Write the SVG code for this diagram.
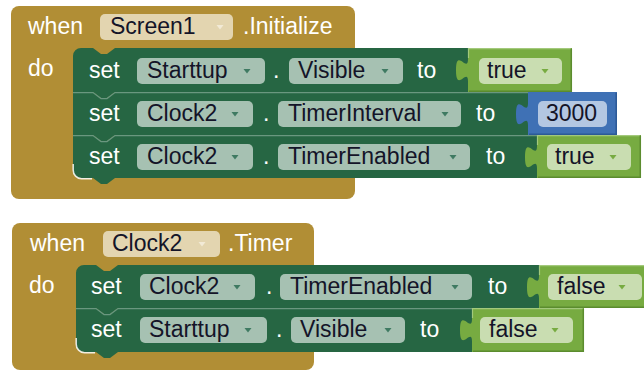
<svg xmlns="http://www.w3.org/2000/svg" width="644" height="371" viewBox="0 0 644 371">
  <style>
    .ev { fill: #b18e35; }
    .st { fill: #266643; }
    .lg { fill: #77ab41; }
    .bl { fill: #3f71b5; }
    .sep { fill: none; stroke: #6a977f; stroke-width: 1.2; }
    .hi { fill: none; stroke: #ffffff; stroke-width: 1.5; opacity: 0.85; }
    .edge-lg { fill: none; stroke: #a3c97c; stroke-width: 1.2; }
    .edge-bl { fill: none; stroke: #2c5a96; stroke-width: 1.5; }
    .edge-lgd { fill: none; stroke: #5b8c2e; stroke-width: 1.5; }
    .p-ev { fill: #e3d5b0; }
    .p-st { fill: #a6c1b2; }
    .p-lg { fill: #c9ddb1; }
    .p-bl { fill: #b3c7e2; }
    .a-ev { fill: #f2ead6; }
    .a-st { fill: #3f7a62; }
    .a-lg { fill: #77ab41; }
    text { font-family: "Liberation Sans", Arial, sans-serif; font-size: 23px; }
    .w { fill: #ffffff; }
    .k { fill: #141428; }
  </style>

  <!-- event: when Screen1.Initialize -->
  <g id="screen1-initialize">
    <rect class="ev" x="11" y="6" width="344" height="193" rx="8"/>
    <text class="w" x="28" y="34">when</text>
    <rect class="p-ev" x="100" y="14" width="133" height="26" rx="5"/>
    <text class="k" x="110" y="34">Screen1</text>
    <polygon class="a-ev" points="216.5,25 223.5,25 220,29.5"/>
    <text class="w" x="243" y="34">.Initialize</text>
    <text class="w" x="28" y="76">do</text>
  </g>

  <!-- set Starttup.Visible to true -->
  <g id="set-starttup-visible-1">
    <path class="st" d="M73,56 A8 8 0 0 1 81,48 H93 l8,6 6,0 8,-6 H468 V92 H115 l-8,6 -6,0 -8,-6 H73 Z"/>
    <text class="w" x="89" y="78">set</text>
    <rect class="p-st" x="137" y="58" width="128" height="26" rx="5"/>
    <text class="k" x="147" y="78">Starttup</text>
    <polygon class="a-st" points="243.5,69 250.5,69 247,73.5"/>
    <text class="w" x="273" y="78">.</text>
    <rect class="p-st" x="289" y="58" width="114" height="26" rx="5"/>
    <text class="k" x="298" y="78">Visible</text>
    <polygon class="a-st" points="381.5,69 388.5,69 385,73.5"/>
    <text class="w" x="417" y="78">to</text>
    <g id="true-1">
      <path class="lg" d="M572,48 V92 H468 V81.5 C468,66.5 456,93.5 456,70.25 C456,47 468,74 468,59 V48 Z"/>
      <path class="edge-lg" d="M468.5,58 V48.6 H571.4"/>
      <path class="edge-lgd" d="M571.3,48.6 V91.3 H469"/>
      <rect class="p-lg" x="479" y="58" width="83" height="26" rx="5"/>
      <text class="k" x="487" y="78">true</text>
      <polygon class="a-lg" points="541.5,69 548.5,69 545,73.5"/>
    </g>
  </g>

  <!-- set Clock2.TimerInterval to 3000 -->
  <g id="set-clock2-interval">
    <path class="st" d="M73,92 H93 l8,6 6,0 8,-6 H528 V135 H115 l-8,6 -6,0 -8,-6 H73 Z"/>
    <path class="sep" d="M73,92.6 H93 l8,6 6,0 8,-6 H528"/>
    <text class="w" x="89" y="121">set</text>
    <rect class="p-st" x="137" y="101" width="116" height="26" rx="5"/>
    <text class="k" x="147" y="121">Clock2</text>
    <polygon class="a-st" points="231.5,112 238.5,112 235,116.5"/>
    <text class="w" x="263" y="121">.</text>
    <rect class="p-st" x="278" y="101" width="183" height="26" rx="5"/>
    <text class="k" x="288" y="121">TimerInterval</text>
    <polygon class="a-st" points="441.5,112 448.5,112 445,116.5"/>
    <text class="w" x="476" y="121">to</text>
    <g id="number-3000">
      <path class="bl" d="M617,92 V135 H528 V125.5 C528,110.5 516,137.5 516,114.25 C516,91 528,118 528,103 V92 Z"/>
      <path class="edge-bl" d="M616.2,92.8 V134.2 H529"/>
      <rect class="p-bl" x="538" y="101" width="69" height="26" rx="5"/>
      <text class="k" x="546" y="121">3000</text>
    </g>
  </g>

  <!-- set Clock2.TimerEnabled to true -->
  <g id="set-clock2-enabled-1">
    <path class="st" d="M73,135 H93 l8,6 6,0 8,-6 H537 V178 H115 l-8,6 -6,0 -8,-6 H81 A8 8 0 0 1 73,170 Z"/>
    <path class="sep" d="M73,135.6 H93 l8,6 6,0 8,-6 H537"/>
    <path class="hi" d="M73.2,164 V170 A8.6 8.6 0 0 0 81.6,178.8 H92"/>
    <text class="w" x="89" y="164">set</text>
    <rect class="p-st" x="137" y="144" width="116" height="26" rx="5"/>
    <text class="k" x="147" y="164">Clock2</text>
    <polygon class="a-st" points="231.5,155 238.5,155 235,159.5"/>
    <text class="w" x="263" y="164">.</text>
    <rect class="p-st" x="278" y="144" width="192" height="26" rx="5"/>
    <text class="k" x="288" y="164">TimerEnabled</text>
    <polygon class="a-st" points="449.5,155 456.5,155 453,159.5"/>
    <text class="w" x="486" y="164">to</text>
    <g id="true-2">
      <path class="lg" d="M641,135 V178 H537 V168.5 C537,153.5 525,180.5 525,157.25 C525,134 537,161 537,146 V135 Z"/>
      <path class="edge-lg" d="M537.5,145 V135.6 H640.4"/>
      <path class="edge-lgd" d="M640.3,135.6 V177.3 H538"/>
      <rect class="p-lg" x="547" y="144" width="84" height="26" rx="5"/>
      <text class="k" x="555" y="164">true</text>
      <polygon class="a-lg" points="609.5,155 616.5,155 613,159.5"/>
    </g>
  </g>

  <!-- event: when Clock2.Timer -->
  <g id="clock2-timer">
    <rect class="ev" x="12" y="223" width="302" height="147" rx="8"/>
    <text class="w" x="30" y="251">when</text>
    <rect class="p-ev" x="103" y="231" width="117" height="26" rx="5"/>
    <text class="k" x="112" y="251">Clock2</text>
    <polygon class="a-ev" points="198.5,242 205.5,242 202,246.5"/>
    <text class="w" x="228" y="251">.Timer</text>
    <text class="w" x="29" y="293">do</text>
  </g>

  <!-- set Clock2.TimerEnabled to false -->
  <g id="set-clock2-enabled-2">
    <path class="st" d="M76,273 A8 8 0 0 1 84,265 H96 l8,6 6,0 8,-6 H539 V308 H118 l-8,6 -6,0 -8,-6 H76 Z"/>
    <text class="w" x="91" y="294">set</text>
    <rect class="p-st" x="140" y="274" width="115" height="26" rx="5"/>
    <text class="k" x="149" y="294">Clock2</text>
    <polygon class="a-st" points="233.5,285 240.5,285 237,289.5"/>
    <text class="w" x="266" y="294">.</text>
    <rect class="p-st" x="280" y="274" width="192" height="26" rx="5"/>
    <text class="k" x="290" y="294">TimerEnabled</text>
    <polygon class="a-st" points="451.5,285 458.5,285 455,289.5"/>
    <text class="w" x="488" y="294">to</text>
    <g id="false-1">
      <path class="lg" d="M645,265 V308 H539 V298.5 C539,283.5 527,310.5 527,287.25 C527,264 539,291 539,276 V265 Z"/>
      <path class="edge-lg" d="M539.5,275 V265.6 H645"/>
      <path class="edge-lgd" d="M644,307.3 H540"/>
      <rect class="p-lg" x="548" y="274" width="94" height="26" rx="5"/>
      <text class="k" x="557" y="294">false</text>
      <polygon class="a-lg" points="618.5,285 625.5,285 622,289.5"/>
    </g>
  </g>

  <!-- set Starttup.Visible to false -->
  <g id="set-starttup-visible-2">
    <path class="st" d="M76,308 H96 l8,6 6,0 8,-6 H472 V352 H118 l-8,6 -6,0 -8,-6 H84 A8 8 0 0 1 76,344 Z"/>
    <path class="sep" d="M76,308.6 H96 l8,6 6,0 8,-6 H472"/>
    <path class="hi" d="M76.2,338 V344 A8.6 8.6 0 0 0 84.6,352.8 H95"/>
    <text class="w" x="91" y="337">set</text>
    <rect class="p-st" x="140" y="317" width="127" height="26" rx="5"/>
    <text class="k" x="149" y="337">Starttup</text>
    <polygon class="a-st" points="244.5,328 251.5,328 248,332.5"/>
    <text class="w" x="276" y="337">.</text>
    <rect class="p-st" x="291" y="317" width="114" height="26" rx="5"/>
    <text class="k" x="300" y="337">Visible</text>
    <polygon class="a-st" points="384.5,328 391.5,328 388,332.5"/>
    <text class="w" x="420" y="337">to</text>
    <g id="false-2">
      <path class="lg" d="M584,308 V352 H472 V341.5 C472,326.5 460,353.5 460,330.25 C460,307 472,334 472,319 V308 Z"/>
      <path class="edge-lg" d="M472.5,318 V308.6 H583.4"/>
      <path class="edge-lgd" d="M583.3,308.6 V351.3 H473"/>
      <rect class="p-lg" x="480" y="317" width="93" height="26" rx="5"/>
      <text class="k" x="489" y="337">false</text>
      <polygon class="a-lg" points="551.5,328 558.5,328 555,332.5"/>
    </g>
  </g>
</svg>
